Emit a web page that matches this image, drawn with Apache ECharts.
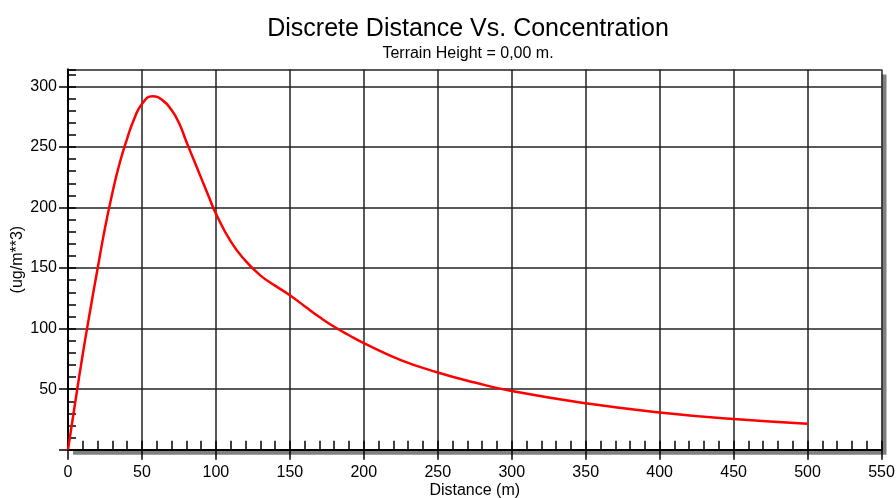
<!DOCTYPE html>
<html>
<head>
<meta charset="utf-8">
<script src="https://cdn.jsdelivr.net/npm/echarts@6/dist/echarts.min.js"></script>
<style>
html,body{margin:0;padding:0;background:#fff;}
#chart{width:896px;height:498px;}
</style>
</head>
<body>
<div id="chart"></div>
<script>
const titleText = 'Discrete Distance Vs. Concentration';
const subtitleText = 'Terrain Height = 0,00 m.';
const xName = 'Distance (m)';
const yName = '(ug/m**3)';
const distances = [0,5,10,15,20,25,30,35,40,45,50,57,64,70,75,80,85,90,95,100,110,120,130,140,150,160,170,180,190,200,225,250,275,300,350,400,450,500];
const concentrations = [0,40,79,115,149.5,183,212,237,257,274,285.5,292,288.5,280.5,270,254.5,239.5,224.5,209.5,195,172,156,144,135.5,127.6,118.5,109.6,101.5,94.5,88,74,63.8,55.5,48.4,38.3,30.8,25.3,21.5];
const xTickValues = [0,50,100,150,200,250,300,350,400,450,500,550];
const yTickValues = [50,100,150,200,250,300];
const xMin = 0, xMax = 550, xStep = 50, xMinorStep = 10;
const yMin = 0, yMax = 314, yStep = 50, yMinorStep = 10;

const chart = echarts.init(document.getElementById('chart'), null, {renderer:'canvas'});
const font = 'Liberation Sans, Arial, sans-serif';
const points = distances.map((d,i)=>[d, concentrations[i]]);
const frameLine = {show:true,lineStyle:{color:'#000',width:2}};

chart.setOption({
  animation:false,
  backgroundColor:'#ffffff',
  title:{
    text:titleText,
    subtext:subtitleText,
    left:463, top:12, textAlign:'center',
    itemGap:4,
    textStyle:{fontFamily:font,fontSize:25,fontWeight:'normal',color:'#000'},
    subtextStyle:{fontFamily:font,fontSize:16,color:'#000'}
  },
  grid:{
    left:68, right:14.5, top:69.5, bottom:48.3,
    outerBoundsMode:'none', containLabel:false,
    show:true, backgroundColor:'#ffffff',
    borderWidth:0,
    shadowColor:'#808080', shadowOffsetX:5, shadowOffsetY:5, shadowBlur:0
  },
  xAxis:[{
    type:'value', min:xMin, max:xMax, interval:xStep,
    name:xName, nameLocation:'middle', nameGap:33, nameMoveOverlap:false,
    nameTextStyle:{fontFamily:font,fontSize:16,color:'#000'},
    axisLine:frameLine,
    axisTick:{show:true,inside:false,length:10,lineStyle:{color:'#000',width:1.5}},
    axisLabel:{fontFamily:font,fontSize:16,color:'#000',margin:15,
      formatter:v=> xTickValues.indexOf(v)>=0 ? String(v) : ''},
    splitLine:{show:true,lineStyle:{color:'#222',width:1.5}}
  },{
    type:'value', min:xMin, max:xMax, interval:xMinorStep, position:'bottom',
    axisLine:{show:false},
    axisTick:{show:true,inside:true,length:9,lineStyle:{color:'#000',width:1.5}},
    axisLabel:{show:false}, splitLine:{show:false}
  },{
    type:'value', min:xMin, max:xMax, position:'top',
    axisLine:frameLine, axisTick:{show:false}, axisLabel:{show:false}, splitLine:{show:false}
  }],
  yAxis:[{
    type:'value', min:yMin, max:yMax, interval:yStep,
    name:yName, nameLocation:'middle', nameGap:42, nameRotate:90, nameMoveOverlap:false,
    nameTextStyle:{fontFamily:font,fontSize:16,color:'#000'},
    axisLine:frameLine,
    axisTick:{show:true,inside:false,length:9,lineStyle:{color:'#000',width:1.5}},
    axisLabel:{fontFamily:font,fontSize:16,color:'#000',margin:11,showMaxLabel:false,
      formatter:v=> yTickValues.indexOf(v)>=0 ? String(v) : ''},
    splitLine:{show:true,lineStyle:{color:'#222',width:1.5}}
  },{
    type:'value', min:yMin, max:yMax, interval:yMinorStep, position:'left',
    axisLine:{show:false},
    axisTick:{show:true,inside:true,length:8,lineStyle:{color:'#000',width:1.5}},
    axisLabel:{show:false}, splitLine:{show:false}
  },{
    type:'value', min:yMin, max:yMax, position:'right',
    axisLine:frameLine, axisTick:{show:false}, axisLabel:{show:false}, splitLine:{show:false}
  }],
  series:[{
    type:'line', xAxisIndex:0, yAxisIndex:0,
    data:points, smooth:0.5, showSymbol:false, symbol:'none',
    lineStyle:{color:'#ff0000',width:2.5}
  }]
});
</script>
</body>
</html>
